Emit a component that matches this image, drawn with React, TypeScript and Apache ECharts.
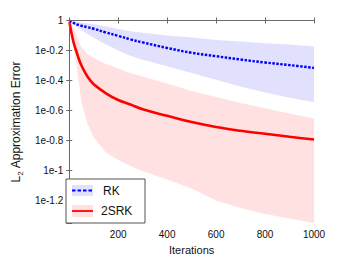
import React, { useEffect, useRef } from "react";
import * as echarts from "echarts";

// Iteration numbers sampled along the x axis
const iterations = [1, 5, 10, 20, 30, 40, 50, 75, 100, 150, 200, 250, 300, 400, 500, 600, 700, 800, 900, 1000];

// log10 of the L2 approximation error
const rkMean = [0, -0.005, -0.01, -0.018, -0.025, -0.03, -0.035, -0.045, -0.055, -0.08, -0.102, -0.126, -0.146, -0.183, -0.215, -0.238, -0.26, -0.28, -0.297, -0.316];
const rkUpper = [0, -0.0015, -0.003, -0.006, -0.009, -0.011, -0.014, -0.02, -0.025, -0.04, -0.056, -0.072, -0.082, -0.1, -0.114, -0.13, -0.14, -0.151, -0.16, -0.174];
const rkLower = [0, -0.008, -0.015, -0.03, -0.042, -0.054, -0.065, -0.09, -0.115, -0.16, -0.2, -0.235, -0.262, -0.305, -0.35, -0.395, -0.44, -0.48, -0.515, -0.545];

const srkMean = [-0.01, -0.05, -0.09, -0.16, -0.21, -0.26, -0.3, -0.375, -0.425, -0.485, -0.53, -0.56, -0.592, -0.635, -0.677, -0.71, -0.735, -0.755, -0.775, -0.793];
const srkUpper = [-0.005, -0.015, -0.03, -0.06, -0.1, -0.145, -0.18, -0.225, -0.25, -0.29, -0.32, -0.352, -0.373, -0.42, -0.47, -0.51, -0.55, -0.585, -0.62, -0.653];
const srkLower = [-0.01, -0.06, -0.11, -0.2, -0.3, -0.42, -0.55, -0.69, -0.78, -0.88, -0.93, -0.97, -1.005, -1.06, -1.12, -1.2, -1.25, -1.29, -1.32, -1.35];

const seriesNames = ["RK", "2SRK"];
const xTicks = [0, 200, 400, 600, 800, 1000];
const yTickStep = 0.2;
const yDecadesShown = 1.35;

const FONT = "'Liberation Sans', Arial, Helvetica, sans-serif";
const BLUE = "#0000ff";
const RED = "#ff0000";
const BLUE_FILL = "#e1e1fd";
const RED_FILL = "#ffe1e1";
const AXIS = "#6a6a6a";

export default function App() {
  const ref = useRef<HTMLDivElement>(null);

  useEffect(() => {
    if (!ref.current) return;
    const chart = echarts.init(ref.current, null, { renderer: "svg" });

    // plotted value = decades below 1 (axis is inverted so 1 is at the top)
    const pts = (a: number[]) => iterations.map((x, i) => [x, -a[i]]);

    const bandSeries = (upper: number[], lower: number[], color: string, z: number) => ({
      type: "custom",
      silent: true,
      z,
      clip: true,
      data: iterations.map((x, i) => [x, -upper[i], -lower[i]]),
      encode: { x: 0, y: [1, 2] },
      renderItem: (params: any, api: any) => {
        if (params.dataIndex !== 0) return null;
        const top = iterations.map((x, i) => api.coord([x, -upper[i]]));
        const bottom = iterations.map((x, i) => api.coord([x, -lower[i]])).reverse();
        return {
          type: "polygon",
          shape: { points: top.concat(bottom), smooth: 0 },
          style: { fill: color, stroke: "none" },
        };
      },
    });

    const yFmt = (v: number) => {
      const r = Math.round(v * 10) / 10;
      if (Math.abs(v - r) > 1e-6) return "";
      return r === 0 ? "1" : "1e-" + r;
    };

    const option: any = {
      animation: false,
      textStyle: { fontFamily: FONT },
      grid: { left: 61, right: 33, top: 20.5, bottom: 32, containLabel: false },
      xAxis: [
        {
          type: "value",
          min: xTicks[0],
          max: xTicks[xTicks.length - 1],
          interval: 200,
          name: "Iterations",
          nameLocation: "middle",
          nameGap: 18,
          nameTextStyle: { fontSize: 11, color: "#111", fontFamily: FONT },
          axisLine: { show: true, lineStyle: { color: AXIS, width: 1 } },
          axisTick: { show: true, inside: true, length: 3, lineStyle: { color: AXIS } },
          axisLabel: {
            fontSize: 10,
            color: "#111",
            margin: 6,
            fontFamily: FONT,
            formatter: (v: number) => (v === 0 ? "" : String(v)),
          },
          splitLine: { show: false },
          z: 10,
        },
        {
          type: "value",
          position: "top",
          min: xTicks[0],
          max: xTicks[xTicks.length - 1],
          interval: 200,
          axisLine: { show: true, lineStyle: { color: AXIS, width: 1 } },
          axisTick: { show: true, inside: true, length: 3, lineStyle: { color: AXIS } },
          axisLabel: { show: false },
          splitLine: { show: false },
          z: 10,
        },
      ],
      yAxis: [
        {
          type: "value",
          inverse: true,
          min: 0,
          max: yDecadesShown,
          interval: yTickStep,
          name: "L{sub|2} Approximation Error",
          nameLocation: "middle",
          nameGap: 45,
          nameTextStyle: {
            fontSize: 12,
            color: "#111",
            fontFamily: FONT,
            lineHeight: 16,
            rich: {
              sub: { fontSize: 8, verticalAlign: "bottom", lineHeight: 16, fontFamily: FONT, color: "#111" },
            },
          },
          axisLine: { show: true, lineStyle: { color: AXIS, width: 1 } },
          axisTick: { show: true, inside: true, length: 3, lineStyle: { color: AXIS } },
          axisLabel: { fontSize: 10, color: "#111", margin: 6, fontFamily: FONT, formatter: yFmt },
          splitLine: { show: false },
          z: 10,
        },
        {
          type: "value",
          position: "right",
          inverse: true,
          min: 0,
          max: yDecadesShown,
          interval: yTickStep,
          axisLine: { show: true, lineStyle: { color: AXIS, width: 1 } },
          axisTick: { show: true, inside: true, length: 3, lineStyle: { color: AXIS } },
          axisLabel: { show: false },
          splitLine: { show: false },
          z: 10,
        },
      ],
      series: [
        bandSeries(srkUpper, srkLower, RED_FILL, 1),
        bandSeries(rkUpper, rkLower, BLUE_FILL, 2),
        {
          name: seriesNames[1],
          type: "line",
          z: 3,
          data: pts(srkMean),
          symbol: "none",
          smooth: 0.4,
          lineStyle: { color: RED, width: 2.6 },
        },
        {
          name: seriesNames[0],
          type: "line",
          z: 4,
          data: pts(rkMean),
          symbol: "none",
          smooth: 0.4,
          lineStyle: { color: BLUE, width: 2.4, type: [2.5, 1.5] },
        },
      ],
      graphic: [
        {
          type: "group",
          x: 66,
          y: 179,
          z: 100,
          children: [
            { type: "rect", z: 100, shape: { x: 0, y: 0, width: 79, height: 44 }, style: { fill: "#fff", stroke: "#555", lineWidth: 1 } },
            { type: "rect", z: 101, shape: { x: 6, y: 6, width: 21, height: 11 }, style: { fill: BLUE_FILL } },
            { type: "line", z: 102, shape: { x1: 6, y1: 11.5, x2: 27, y2: 11.5 }, style: { stroke: BLUE, lineWidth: 2, lineDash: [3.5, 2] } },
            { type: "text", z: 102, x: 37, y: 12, style: { text: seriesNames[0], fontSize: 12, fontFamily: FONT, fill: "#111", verticalAlign: "middle" } },
            { type: "rect", z: 101, shape: { x: 6, y: 26, width: 21, height: 12 }, style: { fill: RED_FILL } },
            { type: "line", z: 102, shape: { x1: 6, y1: 32, x2: 27, y2: 32 }, style: { stroke: RED, lineWidth: 1.8 } },
            { type: "text", z: 102, x: 35, y: 32, style: { text: seriesNames[1], fontSize: 12, fontFamily: FONT, fill: "#111", verticalAlign: "middle" } },
          ],
        },
      ],
    };

    chart.setOption(option);
    return () => chart.dispose();
  }, []);

  return (
    <div
      ref={ref}
      style={{ position: "fixed", left: 0, top: 0, width: 347, height: 260, background: "#fff" }}
    />
  );
}
